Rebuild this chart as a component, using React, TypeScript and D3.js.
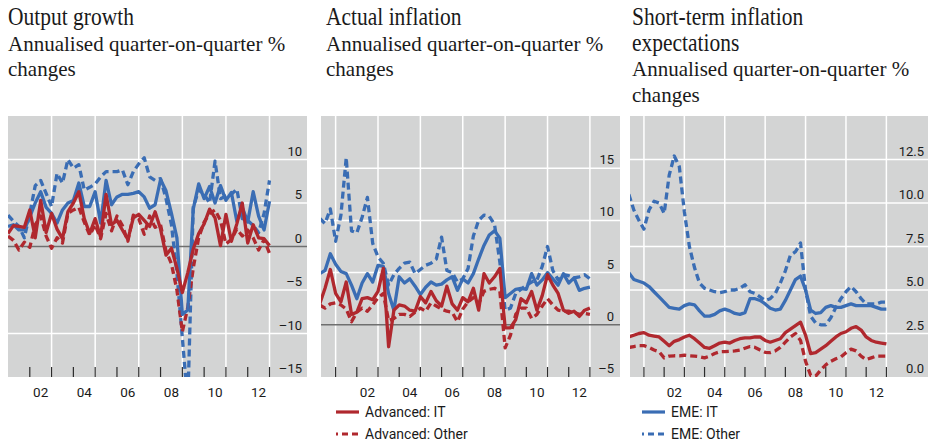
import * as d3 from 'd3';

const RED = '#b0282e';
const BLUE = '#3a6db4';
const PANEL_BG = '#d3d4d4';
const DASH = '7,4';

// x axis: yearly ticks, gridlines every other year, labels every other year
const tickYears = [2001, 2002, 2003, 2004, 2005, 2006, 2007, 2008, 2009, 2010, 2011, 2012, 2013];
const gridYears = [2001, 2003, 2005, 2007, 2009, 2011, 2013];
const labelYears = [2002, 2004, 2006, 2008, 2010, 2012];
const yearLabels = ['02', '04', '06', '08', '10', '12'];

// Output growth (quarterly, first obs at 2001.0)
const outputAdvancedIT = [1.5, 2.4, 2.3, 2.2, 4.2, 1.0, 5.3, 1.6, 3.8, 2.0, 0.9, 4.0, 5.0, 6.3, 3.2, 1.5, 3.2, 1.1, 6.0, 2.5, 3.0, 1.9, 0.8, 3.3, 3.7, 3.0, 2.3, 4.0, 2.0, -1.0, -0.2, -2.5, -5.3, -3.0, -0.3, 1.5, 2.6, 4.3, 3.3, 0.1, 3.7, 0.6, 2.6, 5.0, 0.4, 2.5, 1.0, 0.9, 0.1];
const outputAdvancedOther = [1.2, 0.7, -0.4, 0.5, -0.1, 2.5, 3.5, 1.2, -0.2, 1.0, 0.4, 3.8, 4.2, 4.5, 2.8, 1.3, 2.5, 0.9, 3.8, 1.8, 3.5, 2.4, 0.6, 3.6, 3.2, 1.4, 3.5, 2.2, 2.5, -0.5, -2.0, -5.0, -9.8, -7.0, -2.5, 1.0, 2.8, 3.8, 4.2, 3.0, 0.3, 0.8, 2.0, 1.2, 1.9, 1.0, -0.4, 0.8, -0.8];
const outputEmeIT = [2.3, 2.5, 1.9, 1.9, 3.4, 5.0, 6.3, 4.5, 3.8, 2.7, 4.2, 5.0, 5.3, 7.3, 4.6, 4.6, 6.3, 2.7, 7.6, 4.8, 5.7, 6.0, 6.0, 6.1, 6.3, 5.7, 4.4, 4.8, 7.7, 6.4, 3.8, 1.0, -7.8, -7.3, 4.3, 7.2, 5.5, 6.9, 5.0, 7.0, 5.3, 6.2, 2.9, 4.5, 2.8, 6.3, 3.5, 1.9, 5.2];
const outputEmeOther = [3.6, 2.9, 2.3, 1.0, 3.8, 7.0, 7.6, 6.1, 4.6, 8.4, 7.3, 10.0, 9.0, 9.4, 6.5, 6.8, 7.2, 8.0, 8.6, 8.6, 8.6, 8.8, 7.1, 8.6, 9.5, 10.2, 8.0, 7.6, 7.8, 5.5, 2.5, -3.0, -10.5, -18.0, 4.5, 6.5, 6.0, 5.0, 9.8, 5.5, 5.8, 6.0, 6.6, 3.2, 3.0, 2.4, 1.6, 3.8, 7.6];

// Actual inflation (quarterly, first obs at 2000.25)
const inflAdvancedIT = [2.0, 3.5, 5.3, 3.0, 2.2, 4.1, 1.0, 1.2, 2.5, 2.6, 2.4, 3.2, 5.4, -2.1, 1.4, 1.9, 1.8, 1.4, 1.3, 2.7, 2.1, 3.2, 2.3, 1.8, 3.7, 2.0, 1.4, 2.6, 2.2, 3.5, 1.4, 4.9, 4.0, 4.6, 5.4, -0.3, -0.3, 0.5, 2.5, 2.1, 3.2, 1.4, 2.8, 4.8, 3.8, 3.0, 1.4, 1.1, 1.3, 0.8, 1.4, 1.6];
const inflAdvancedOther = [1.9, 1.6, 2.0, 2.1, 1.9, 1.5, 0.3, 1.2, 1.6, 1.3, 1.9, 2.6, 3.0, 0.4, 0.6, 1.0, 1.0, 0.8, 1.2, 1.6, 1.3, 2.1, 1.8, 1.5, 1.3, 1.2, 0.3, 1.5, 2.2, 2.6, 2.0, 3.2, 3.4, 3.5, 3.2, -2.2, -1.0, 1.0, 1.6, 1.6, 0.6, 1.0, 1.8, 2.5, 1.9, 1.4, 1.3, 1.3, 1.2, 1.0, 1.1, 1.0];
const inflEmeIT = [4.9, 5.2, 6.8, 5.8, 5.1, 4.9, 3.8, 2.5, 4.0, 4.9, 4.1, 5.7, 5.6, 3.0, 1.4, 4.6, 4.0, 4.4, 3.7, 2.9, 3.6, 4.1, 3.8, 3.9, 4.3, 4.6, 3.3, 4.4, 4.0, 4.9, 6.3, 7.6, 8.6, 9.0, 8.3, 2.6, 3.0, 3.4, 3.5, 3.4, 4.9, 3.8, 4.3, 5.0, 4.4, 3.8, 4.9, 4.0, 4.5, 3.3, 3.5, 3.6];
const inflEmeOther = [10.2, 9.7, 11.1, 8.0, 10.5, 16.0, 9.0, 8.8, 10.3, 12.2, 7.8, 6.5, 5.9, 3.8, 4.8, 5.4, 5.9, 6.0, 4.9, 5.3, 5.7, 5.9, 6.3, 8.4, 5.2, 5.0, 4.1, 4.4, 5.4, 8.5, 10.0, 10.5, 10.4, 9.6, 6.0, 1.4, 1.6, 3.0, 3.4, 3.8, 4.1, 4.3, 5.6, 7.5, 5.2, 4.3, 4.8, 4.7, 4.5, 4.6, 4.8, 4.4];

// Short-term inflation expectations (quarterly, first obs at 2000.25)
const expAdvancedIT = [2.3, 2.4, 2.5, 2.55, 2.4, 2.35, 2.3, 2.05, 1.8, 2.05, 2.15, 2.3, 2.4, 2.2, 1.95, 1.7, 1.65, 1.8, 1.95, 2.0, 1.95, 2.1, 2.2, 2.25, 2.25, 2.3, 2.3, 2.1, 2.0, 2.1, 2.2, 2.55, 2.75, 2.95, 3.15, 2.4, 1.35, 1.4, 1.6, 1.8, 2.05, 2.3, 2.5, 2.6, 2.8, 2.9, 2.7, 2.3, 2.1, 2.0, 1.95, 1.9];
const expAdvancedOther = [1.7, 1.75, 1.8, 1.8, 1.7, 1.55, 1.45, 1.1, 1.2, 1.22, 1.22, 1.25, 1.22, 1.2, 1.17, 1.1, 1.2, 1.35, 1.45, 1.46, 1.48, 1.5, 1.55, 1.65, 1.75, 1.7, 1.55, 1.42, 1.4, 1.5, 1.7, 2.0, 2.3, 2.5, 2.1, 0.9, 0.1, 0.05, 0.4, 0.7, 0.9, 1.05, 1.15, 1.4, 1.6, 1.5, 1.2, 1.0, 1.1, 1.2, 1.2, 1.2];
const expEmeIT = [6.0, 5.6, 5.5, 5.4, 5.2, 4.9, 4.6, 4.3, 4.0, 3.95, 3.9, 4.1, 4.2, 4.15, 3.8, 3.5, 3.5, 3.6, 3.8, 3.9, 3.8, 3.65, 3.6, 3.7, 4.5, 4.5, 4.4, 4.2, 3.95, 3.85, 3.9, 4.4, 5.0, 5.6, 5.8, 5.0, 3.85, 3.65, 3.7, 4.0, 4.1, 4.0, 4.0, 4.1, 4.2, 4.1, 4.1, 4.1, 4.1, 4.0, 3.9, 3.9];
const expEmeOther = [10.5, 9.6, 9.0, 8.5, 9.6, 10.1, 10.0, 9.4, 11.6, 12.7, 12.1, 9.5, 7.5, 6.3, 5.4, 5.1, 5.0, 4.9, 4.85, 4.9, 5.0, 5.0, 5.1, 5.3, 4.9, 4.8, 4.6, 4.4, 4.5, 4.8, 5.4, 6.1, 7.0, 7.2, 7.7, 5.0, 3.5, 3.1, 3.0, 3.0, 3.4, 4.0, 4.5, 4.9, 5.2, 4.9, 4.5, 4.2, 4.2, 4.2, 4.3, 4.3];

interface Series {
  id: string;
  color: string;
  dashed: boolean;
  values: number[];
}

interface PanelCfg {
  id: string;
  left: number;
  right: number;
  top: number;
  bottom: number;
  xDomain: [number, number];
  yDomain: [number, number];
  yTicks: number[];
  yFmt: (v: number) => string;
  labelX: number;
  start: number; // year of first quarterly obs
  textX: number;
  titles: string[];
  subtitles: string[];
  series: Series[];
}

const fmtInt = (v: number) => (v < 0 ? '\u2013' + Math.abs(v) : String(v));
const fmt1 = (v: number) => v.toFixed(1);

const seriesFor = (advIT: number[], advOther: number[], emeIT: number[], emeOther: number[]): Series[] => [
  // dashed first, solid on top
  { id: 'eme-other', color: BLUE, dashed: true, values: emeOther },
  { id: 'adv-other', color: RED, dashed: true, values: advOther },
  { id: 'eme-it', color: BLUE, dashed: false, values: emeIT },
  { id: 'adv-it', color: RED, dashed: false, values: advIT },
];

const panels: PanelCfg[] = [
  {
    id: 'p1',
    left: 8, right: 307, top: 116, bottom: 377,
    xDomain: [2001, 2014.72],
    yDomain: [-15, 15],
    yTicks: [10, 5, 0, -5, -10, -15],
    yFmt: fmtInt,
    labelX: 302,
    start: 2001,
    textX: 8,
    titles: ['Output growth'],
    subtitles: ['Annualised quarter-on-quarter %', 'changes'],
    series: seriesFor(outputAdvancedIT, outputAdvancedOther, outputEmeIT, outputEmeOther),
  },
  {
    id: 'p2',
    left: 321, right: 620, top: 116, bottom: 377,
    xDomain: [2000.31, 2014.42],
    yDomain: [-5, 20],
    yTicks: [15, 10, 5, 0, -5],
    yFmt: fmtInt,
    labelX: 614,
    start: 2000.25,
    textX: 326,
    titles: ['Actual inflation'],
    subtitles: ['Annualised quarter-on-quarter %', 'changes'],
    series: seriesFor(inflAdvancedIT, inflAdvancedOther, inflEmeIT, inflEmeOther),
  },
  {
    id: 'p3',
    left: 630, right: 928, top: 116, bottom: 377,
    xDomain: [2000.31, 2015.06],
    yDomain: [0, 15],
    yTicks: [12.5, 10, 7.5, 5, 2.5, 0],
    yFmt: fmt1,
    labelX: 924,
    start: 2000.25,
    textX: 632,
    titles: ['Short-term inflation', 'expectations'],
    subtitles: ['Annualised quarter-on-quarter %', 'changes'],
    series: seriesFor(expAdvancedIT, expAdvancedOther, expEmeIT, expEmeOther),
  },
];

const legends = [
  { x: 336, items: [{ label: 'Advanced: IT', color: RED, dashed: false }, { label: 'Advanced: Other', color: RED, dashed: true }] },
  { x: 642, items: [{ label: 'EME: IT', color: BLUE, dashed: false }, { label: 'EME: Other', color: BLUE, dashed: true }] },
];

const SANS = 'Roboto, "Liberation Sans", sans-serif';
const SERIF = '"Liberation Serif", "Times New Roman", serif';

function Panel({ cfg }: { cfg: PanelCfg }) {
  const x = d3.scaleLinear().domain(cfg.xDomain).range([cfg.left, cfg.right]);
  const y = d3.scaleLinear().domain(cfg.yDomain).range([cfg.bottom, cfg.top]);
  const line = d3
    .line<number>()
    .x((_, i) => x(cfg.start + i * 0.25))
    .y((d) => y(d));
  const [yLo, yHi] = cfg.yDomain;
  const clipId = `clip-${cfg.id}`;
  const lineH = 25.5;

  return (
    <g>
      {/* Titles: the original face is a narrow Times, so squeeze horizontally */}
      {cfg.titles.map((t, k) => (
        <text
          key={t}
          transform={`translate(${cfg.textX},${25 + k * lineH}) scale(0.86,1)`}
          fontFamily={SERIF}
          fontSize={25}
          fill="#1a1a1a"
        >
          {t}
        </text>
      ))}
      {cfg.subtitles.map((t, k) => (
        <text
          key={t}
          x={cfg.textX}
          y={25 + (cfg.titles.length + k) * lineH}
          fontFamily={SERIF}
          fontSize={21}
          fill="#1a1a1a"
        >
          {t}
        </text>
      ))}

      <defs>
        <clipPath id={clipId}>
          <rect x={cfg.left} y={cfg.top} width={cfg.right - cfg.left} height={cfg.bottom - cfg.top} />
        </clipPath>
      </defs>
      <rect x={cfg.left} y={cfg.top} width={cfg.right - cfg.left} height={cfg.bottom - cfg.top} fill={PANEL_BG} />

      {/* vertical grid */}
      {gridYears
        .filter((yr) => x(yr) > cfg.left + 2)
        .map((yr) => (
          <line key={yr} x1={x(yr)} x2={x(yr)} y1={cfg.top} y2={cfg.bottom} stroke="#fff" strokeWidth={1.5} />
        ))}
      {/* horizontal grid */}
      {cfg.yTicks
        .filter((v) => v !== yLo && v !== yHi && v !== 0)
        .map((v) => (
          <line key={v} x1={cfg.left} x2={cfg.right} y1={y(v)} y2={y(v)} stroke="#fff" strokeWidth={1.5} />
        ))}
      {yLo < 0 && (
        <line x1={cfg.left} x2={cfg.right} y1={y(0)} y2={y(0)} stroke="#6f6f6f" strokeWidth={1.6} />
      )}

      {/* bottom year ticks */}
      {tickYears
        .filter((yr) => x(yr) > cfg.left + 2)
        .map((yr) => (
          <line key={yr} x1={x(yr)} x2={x(yr)} y1={cfg.bottom - 10} y2={cfg.bottom} stroke="#2b2b2b" strokeWidth={1.2} />
        ))}

      {/* y labels */}
      {cfg.yTicks.map((v) => (
        <text key={v} x={cfg.labelX} y={y(v) - 4} textAnchor="end" fontFamily={SANS} fontSize={13} fill="#1a1a1a">
          {cfg.yFmt(v)}
        </text>
      ))}

      {/* x labels */}
      {labelYears.map((yr, k) => (
        <text
          key={yr}
          x={x(yr + 0.5)}
          y={397}
          textAnchor="middle"
          fontFamily={SANS}
          fontSize={13.5}
          fill="#1a1a1a"
        >
          {yearLabels[k]}
        </text>
      ))}

      {/* series */}
      <g clipPath={`url(#${clipId})`}>
        {cfg.series.map((s) => (
          <path
            key={s.id}
            d={line(s.values) ?? ''}
            fill="none"
            stroke={s.color}
            strokeWidth={3.3}
            strokeDasharray={s.dashed ? DASH : undefined}
            strokeLinejoin="round"
          />
        ))}
      </g>
    </g>
  );
}

export default function App() {
  return (
    <>
      <style>{`body{margin:0;background:#fff}`}</style>
      <svg width={928} height={443} style={{ display: 'block' }}>
        <rect width={928} height={443} fill="#fff" />
        {panels.map((p) => (
          <Panel key={p.id} cfg={p} />
        ))}
        {legends.map((lg) =>
          lg.items.map((it, k) => (
            <g key={it.label}>
              <line
                x1={lg.x}
                x2={lg.x + 23}
                y1={412 + k * 22}
                y2={412 + k * 22}
                stroke={it.color}
                strokeWidth={3.2}
                strokeDasharray={it.dashed ? '2,4,6,4,6,4' : undefined}
              />
              <text x={lg.x + 29} y={412 + k * 22 + 5} fontFamily={SANS} fontSize={14} fill="#1a1a1a">
                {it.label}
              </text>
            </g>
          ))
        )}
      </svg>
    </>
  );
}
